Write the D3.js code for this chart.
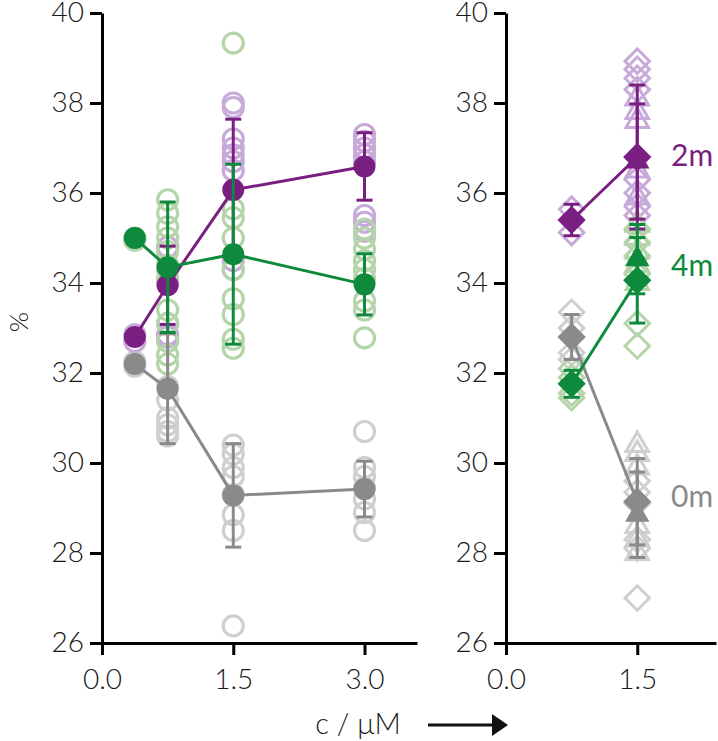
<!DOCTYPE html>
<html lang="en">
<head>
  <meta charset="UTF-8">
  <title>chart</title>
  <script src="https://d3js.org/d3.v7.min.js"></script>
  <style>
    body { margin: 0; background: #fff; }
    text { font-family: Lato, 'Open Sans', sans-serif; }
  </style>
</head>
<body>
  <svg width="718" height="741" id="chart"></svg>

  <script>
    // left panel: mean values per time series, x = concentration
    const leftX = [0.375, 0.75, 1.5, 3.0];
    const mean0m = [32.2, 31.65, 29.28, 29.42];
    const err0m = [0, 1.22, 1.15, 0.62];
    const mean2m = [32.8, 33.95, 36.07, 36.59];
    const err2m = [0, 0.87, 1.57, 0.75];
    const mean4m = [35.0, 34.35, 34.64, 33.97];
    const err4m = [0, 1.45, 2.0, 0.68];

    // left panel: single measurements (one list per x)
    const pts0m = [
      [32.25, 32.15],
      [31.7, 31.4, 31.0, 30.85, 30.7, 30.6],
      [30.4, 30.2, 29.9, 29.7, 29.3, 28.85, 28.5, 26.38],
      [30.7, 29.9, 29.7, 29.45, 29.2, 28.9, 28.5]
    ];
    const pts2m = [
      [32.85, 32.7],
      [34.8, 34.3, 34.0, 33.1, 32.85, 32.8],
      [38.0, 37.9, 37.2, 37.0, 36.85, 36.7, 36.5, 34.5, 34.3],
      [37.3, 37.15, 37.0, 36.85, 36.7, 35.5, 35.35, 35.15]
    ];
    const pts4m = [
      [35.0, 34.95],
      [35.85, 35.55, 35.25, 35.0, 34.7, 34.4, 34.1, 33.4, 33.1, 32.7, 32.4, 32.2],
      [39.33, 35.65, 35.45, 35.0, 34.3, 33.65, 33.3, 32.75, 32.55],
      [35.2, 35.0, 34.75, 34.5, 34.3, 34.1, 33.6, 33.4, 32.78]
    ];

    // right panel: diamonds (x 0.75 and 1.5) and triangles (x 1.5 only)
    const rightX = [0.75, 1.5];
    const triX = [1.5];
    const rMean0D = [32.8, 29.14], rErr0D = [0.5, 0.96];
    const rMean2D = [35.4, 36.8], rErr2D = [0.35, 1.6];
    const rMean4D = [31.76, 34.06], rErr4D = [0.3, 0.95];
    const rMean0T = [28.85], rErr0T = [0.95];
    const rMean2T = [36.7], rErr2T = [1.28];
    const rMean4T = [34.53], rErr4T = [0.77];

    const rPts0D = [[33.35, 33.0, 32.45, 32.3], [29.6, 29.35, 29.1, 28.3, 28.1, 27.0]];
    const rPts2D = [[35.64, 35.12], [38.93, 38.75, 38.55, 38.3, 36.3, 36.0, 35.7, 35.5]];
    const rPts4D = [[32.1, 31.9, 31.55, 31.45], [35.2, 34.9, 34.6, 34.2, 33.1, 32.6]];
    const rPts0T = [[30.4, 30.2, 29.9, 28.6, 28.3, 28.0]];
    const rPts2T = [[38.1, 37.8, 37.6, 36.5, 35.9, 35.3]];
    const rPts4T = [[35.3, 35.0, 34.7, 34.4, 34.0]];

    const yTicks = [26, 28, 30, 32, 34, 36, 38, 40];
    const leftTicks = [0, 1.5, 3.0];
    const rightTicks = [0, 1.5];
    const seriesNames = ['0m', '2m', '4m'];

    const dark = { '0m': '#8a8a8a', '2m': '#7a1f82', '4m': '#0e8a3c' };
    const light = { '0m': '#cfcfcf', '2m': '#c7aad9', '4m': '#b5d4a9' };

    const svg = d3.select('#chart');
    const yScale = d3.scaleLinear().domain([26, 40]).range([643, 13]);
    const xLeft = d3.scaleLinear().domain([0, 3.6]).range([102, 417]);
    const xRight = d3.scaleLinear().domain([0, 2.4]).range([506, 716]);

    // axes
    function styleAxis(sel) {
      sel.selectAll('path, line').attr('stroke', '#000').attr('stroke-width', 3);
      sel.selectAll('text').attr('font-size', 28).attr('fill', '#1a1a1a')
        .attr('font-family', 'Lato, sans-serif').style('font-weight', 300);
    }
    [xLeft, xRight].forEach(x => {
      svg.append('g').attr('transform', `translate(${x.range()[0]},0)`)
        .call(d3.axisLeft(yScale).tickValues(yTicks).tickFormat(d3.format('d'))
          .tickSize(12).tickSizeOuter(0).tickPadding(6))
        .call(styleAxis);
    });
    svg.append('g').attr('transform', `translate(0,${yScale(26)})`)
      .call(d3.axisBottom(xLeft).tickValues(leftTicks).tickFormat(d3.format('.1f'))
        .tickSize(12).tickSizeOuter(0).tickPadding(14))
      .call(styleAxis);
    svg.append('g').attr('transform', `translate(0,${yScale(26)})`)
      .call(d3.axisBottom(xRight).tickValues(rightTicks).tickFormat(d3.format('.1f'))
        .tickSize(12).tickSizeOuter(0).tickPadding(14))
      .call(styleAxis);

    // axis titles
    svg.append('text').text('%')
      .attr('transform', `translate(28, 322) rotate(-90)`)
      .attr('text-anchor', 'middle').attr('font-size', 26).attr('fill', '#1a1a1a')
      .style('font-weight', 300);
    svg.append('text').text('c / μM')
      .attr('x', 358).attr('y', 734).attr('text-anchor', 'middle')
      .attr('font-size', 29).attr('fill', '#1a1a1a').style('font-weight', 300);
    svg.append('line').attr('x1', 428).attr('x2', 496).attr('y1', 725).attr('y2', 725)
      .attr('stroke', '#111').attr('stroke-width', 3);
    svg.append('path').attr('d', 'M492,714 L508,725 L492,736 Z').attr('fill', '#111');

    const diamond = (s) => d3.symbol(d3.symbolSquare, s)();
    const tri = (s) => d3.symbol(d3.symbolTriangle, s)();

    // left panel, open circles
    const leftPts = { '0m': pts0m, '2m': pts2m, '4m': pts4m };
    seriesNames.forEach(n => {
      leftPts[n].forEach((vals, i) => {
        vals.forEach(v => {
          svg.append('circle').attr('cx', xLeft(leftX[i])).attr('cy', yScale(v)).attr('r', 10)
            .attr('fill', 'none').attr('stroke', light[n]).attr('stroke-width', 3.2);
        });
      });
    });

    // right panel, open diamonds + triangles
    const rDia = { '0m': rPts0D, '2m': rPts2D, '4m': rPts4D };
    const rTri = { '0m': rPts0T, '2m': rPts2T, '4m': rPts4T };
    seriesNames.forEach(n => {
      rDia[n].forEach((vals, i) => {
        vals.forEach(v => {
          svg.append('path').attr('d', diamond(300))
            .attr('transform', `translate(${xRight(rightX[i])},${yScale(v)}) rotate(45)`)
            .attr('fill', 'none').attr('stroke', light[n]).attr('stroke-width', 3);
        });
      });
      rTri[n].forEach((vals, i) => {
        vals.forEach(v => {
          svg.append('path').attr('d', tri(220))
            .attr('transform', `translate(${xRight(triX[i])},${yScale(v)})`)
            .attr('fill', 'none').attr('stroke', light[n]).attr('stroke-width', 3);
        });
      });
    });

    function errBars(x, xs, means, errs, color) {
      means.forEach((m, i) => {
        if (!errs[i]) return;
        const cx = x(xs[i]);
        const t = yScale(m + errs[i]), b = yScale(m - errs[i]);
        svg.append('line').attr('x1', cx).attr('x2', cx).attr('y1', t).attr('y2', b)
          .attr('stroke', color).attr('stroke-width', 3);
        [t, b].forEach(yy => svg.append('line').attr('x1', cx - 8).attr('x2', cx + 8)
          .attr('y1', yy).attr('y2', yy).attr('stroke', color).attr('stroke-width', 3));
      });
    }
    const line = (x, xs) => d3.line().x((d, i) => x(xs[i])).y(d => yScale(d));

    // left panel means
    const leftMeans = { '0m': [mean0m, err0m], '2m': [mean2m, err2m], '4m': [mean4m, err4m] };
    seriesNames.forEach(n => {
      const [m, e] = leftMeans[n];
      svg.append('path').attr('d', line(xLeft, leftX)(m))
        .attr('fill', 'none').attr('stroke', dark[n]).attr('stroke-width', 3);
      errBars(xLeft, leftX, m, e, dark[n]);
      m.forEach((v, i) => svg.append('circle').attr('cx', xLeft(leftX[i])).attr('cy', yScale(v))
        .attr('r', 11).attr('fill', dark[n]));
    });

    // right panel means
    const rMeans = {
      '0m': [rMean0D, rErr0D, rMean0T, rErr0T],
      '2m': [rMean2D, rErr2D, rMean2T, rErr2T],
      '4m': [rMean4D, rErr4D, rMean4T, rErr4T]
    };
    seriesNames.forEach(n => {
      const [md, ed, mt, et] = rMeans[n];
      svg.append('path').attr('d', line(xRight, rightX)(md))
        .attr('fill', 'none').attr('stroke', dark[n]).attr('stroke-width', 3);
      errBars(xRight, triX, mt, et, dark[n]);
      errBars(xRight, rightX, md, ed, dark[n]);
      mt.forEach((v, i) => svg.append('path').attr('d', tri(260))
        .attr('transform', `translate(${xRight(triX[i])},${yScale(v)})`).attr('fill', dark[n]));
      md.forEach((v, i) => svg.append('path').attr('d', diamond(400))
        .attr('transform', `translate(${xRight(rightX[i])},${yScale(v)}) rotate(45)`)
        .attr('fill', dark[n]));
    });

    // series labels
    const labelY = { '2m': 36.83, '4m': 34.4, '0m': 29.25 };
    seriesNames.forEach(n => {
      svg.append('text').text(n).attr('x', 671).attr('y', yScale(labelY[n]))
        .attr('dy', '0.35em').attr('font-size', 30).style('font-weight', 400)
        .attr('fill', dark[n]);
    });
  </script>
</body>
</html>
